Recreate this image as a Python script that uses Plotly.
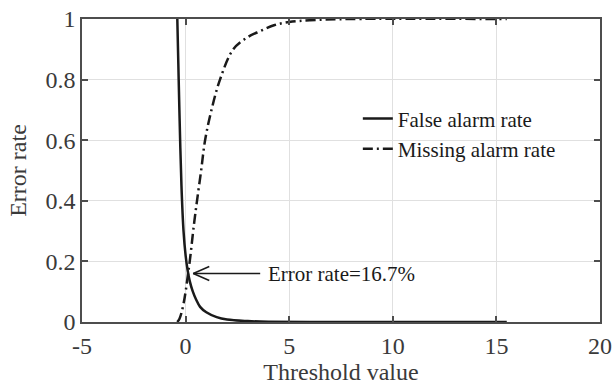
import plotly.graph_objects as go

# Data
fa_x = [-0.4, -0.35, -0.3, -0.2, -0.1, 0.0, 0.1, 0.2, 0.35, 0.5, 0.7, 1.0, 1.5, 2.0, 3.0, 4.0, 6.0, 10.0, 15.5]
fa_y = [1.0, 0.85, 0.7, 0.45, 0.3, 0.22, 0.17, 0.135, 0.1, 0.075, 0.05, 0.032, 0.016, 0.008, 0.003, 0.001, 0.0, 0.0, 0.0]

ma_x = [-0.4, -0.3, -0.2, -0.1, 0.0, 0.1, 0.2, 0.4, 0.55, 0.75, 0.94, 1.25, 1.66, 2.3, 3.0, 3.6, 4.3, 5.0, 6.0, 8.0, 15.5]
ma_y = [0.0, 0.01, 0.03, 0.06, 0.1, 0.15, 0.2, 0.32, 0.4, 0.5, 0.6, 0.7, 0.8, 0.9, 0.94, 0.96, 0.98, 0.99, 0.996, 1.0, 1.0]

x_ticks = [-5, 0, 5, 10, 15, 20]
x_tick_text = ["-5", "0", "5", "10", "15", "20"]
y_ticks = [0, 0.2, 0.4, 0.6, 0.8, 1]
y_tick_text = ["0", "0.2", "0.4", "0.6", "0.8", "1"]

arrow_tip = (0.37, 0.16)
arrow_tail_x = 3.6
label_text = "Error rate=16.7%"

FONT = "Liberation Serif, Times New Roman, serif"
TXT = "#3a3a3a"
INK = "#1a1a1a"

X_RANGE = [-5, 20]
Y_RANGE = [0, 1]
W, H = 613, 385
M = dict(l=82, r=13, t=19, b=63)
plot_w = W - M["l"] - M["r"]
plot_h = H - M["t"] - M["b"]
dx_per_px = (X_RANGE[1] - X_RANGE[0]) / plot_w
dy_per_px = (Y_RANGE[1] - Y_RANGE[0]) / plot_h

fig = go.Figure()
fig.add_trace(go.Scatter(x=fa_x, y=fa_y, mode="lines", name="False alarm rate",
                         line=dict(color=INK, width=2.5), line_shape="spline"))
fig.add_trace(go.Scatter(x=ma_x, y=ma_y, mode="lines", name="Missing alarm rate",
                         line=dict(color=INK, width=2.5, dash="10px,4px,2px,4px"),
                         line_shape="spline"))

# open arrow (shaft + two barbs) computed from the tip location
bx = 16 * dx_per_px
by = 7 * dy_per_px
tx, ty = arrow_tip
fig.add_trace(go.Scatter(
    x=[arrow_tail_x, tx, None, tx + bx, tx, tx + bx],
    y=[ty, ty, None, ty + by, ty, ty - by],
    mode="lines", line=dict(color=INK, width=1.5), showlegend=False, hoverinfo="skip"))

fig.add_annotation(x=arrow_tail_x + 0.3, y=arrow_tip[1], xref="x", yref="y",
                   text=label_text, showarrow=False, xanchor="left", yanchor="middle",
                   font=dict(family=FONT, size=21, color=INK))

axis_common = dict(showline=True, linecolor="#4d4d4d", linewidth=1.5, mirror="ticks",
                   ticks="inside", ticklen=6, tickcolor="#4d4d4d", tickwidth=1.5,
                   showgrid=True, gridcolor="#e0e0e0", gridwidth=1, zeroline=False,
                   automargin=False,
                   tickfont=dict(family=FONT, size=24, color=TXT))

fig.update_xaxes(range=X_RANGE, tickvals=x_ticks, ticktext=x_tick_text, **axis_common,
                 ticklabelstandoff=1,
                 title=dict(text="Threshold value", font=dict(family=FONT, size=24, color=TXT),
                            standoff=8))
fig.update_yaxes(range=Y_RANGE, tickvals=y_ticks, ticktext=y_tick_text, **axis_common,
                 title=dict(text="Error rate", font=dict(family=FONT, size=24, color=TXT),
                            standoff=12))

fig.update_layout(
    width=W, height=H,
    margin=M,
    plot_bgcolor="white", paper_bgcolor="white",
    showlegend=True,
    legend=dict(x=0.5325, y=0.738, xanchor="left", yanchor="top",
                bgcolor="rgba(0,0,0,0)", font=dict(family=FONT, size=21, color=INK),
                tracegroupgap=0),
)

fig.write_html("out.html")
